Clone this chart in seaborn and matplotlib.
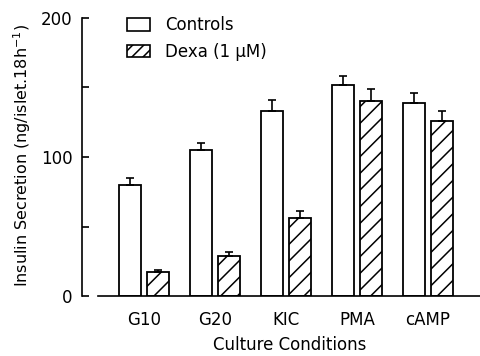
import matplotlib
matplotlib.use("Agg")
import matplotlib.pyplot as plt
import seaborn as sns
import pandas as pd
from matplotlib.patches import Patch

categories = ["G10", "G20", "KIC", "PMA", "cAMP"]
groups = ["Controls", "Dexa (1 \u03bcM)"]
controls = [80, 105, 133, 152, 139]
controls_err = [5, 5, 8, 6.5, 7]
dexa = [17, 29, 56, 140, 126]
dexa_err = [2, 2.5, 5, 9, 7]
yticks = [0, 50, 100, 150, 200]
ytick_labels = ["0", "", "100", "", "200"]

sns.set_style("white")
plt.rcParams["font.family"] = ["DejaVu Sans"]
plt.rcParams["hatch.linewidth"] = 1.1
for k in ["text.color", "axes.labelcolor", "xtick.color", "ytick.color"]:
    plt.rcParams[k] = "black"

df = pd.DataFrame({
    "cond": categories * 2,
    "group": [groups[0]] * len(categories) + [groups[1]] * len(categories),
    "value": controls + dexa,
})

fig = plt.figure(figsize=(4.81, 3.56), dpi=100)
ax = fig.add_axes([82 / 481, 60 / 356, 1 - 82 / 481, 278 / 356])

sns.barplot(data=df, x="cond", y="value", hue="group", order=categories,
            hue_order=groups, palette=["white", "white"], edgecolor="black",
            linewidth=1.3, width=0.8, gap=0.22, errorbar=None, legend=False, ax=ax)

for bar in ax.containers[1]:
    bar.set_hatch("//")

for cont, vals, errs in zip(ax.containers, [controls, dexa], [controls_err, dexa_err]):
    xs = [b.get_x() + b.get_width() / 2 for b in cont]
    ax.errorbar(xs, vals, yerr=[[0] * len(errs), errs], fmt="none",
                ecolor="black", elinewidth=1.2, capsize=3, capthick=1.2, zorder=1)

ax.set_ylim(0, 200)
ax.set_xlim(-0.873, 4.75)
ax.set_yticks(yticks)
ax.set_yticklabels(ytick_labels)
ax.tick_params(axis="y", direction="in", length=5, width=1.2, labelsize=12, pad=7, left=True)
ax.tick_params(axis="x", length=0, labelsize=12, pad=11)
for s in ["top", "right"]:
    ax.spines[s].set_visible(False)
for s in ["left", "bottom"]:
    ax.spines[s].set_linewidth(1.2)
    ax.spines[s].set_color("black")
ax.spines["bottom"].set_bounds(-0.65, 4.75)

ax.set_xlabel("Culture Conditions", fontsize=12)
ax.xaxis.set_label_coords(0.521, -0.145)
ax.set_ylabel("Insulin Secretion (ng/islet.18h$^{-1}$)", fontsize=11.5)
ax.yaxis.set_label_coords(-0.124, 0.505)

handles = [Patch(facecolor="white", edgecolor="black", linewidth=1.2),
           Patch(facecolor="white", edgecolor="black", linewidth=1.2, hatch="///")]
ax.legend(handles=handles, labels=groups, loc="upper left", bbox_to_anchor=(0.113, 1.006),
          frameon=False, fontsize=12, handlelength=1.4, handleheight=0.75,
          handletextpad=0.9, labelspacing=0.5, borderpad=0, borderaxespad=0)

fig.savefig("out.png", dpi=100)
